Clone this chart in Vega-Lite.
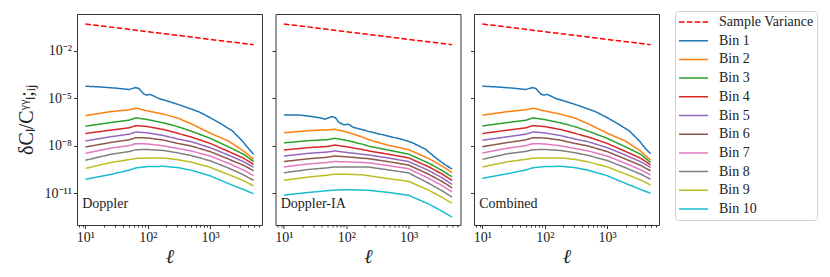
{
  "$schema": "https://vega.github.io/schema/vega-lite/v6.json",
  "padding": {"left": 15, "top": 10, "right": 5, "bottom": 5},
  "datasets": {
    "labels": [
      {"panel": "Doppler", "label": "Doppler", "ell": 8.9, "value": 2.2e-12},
      {"panel": "Doppler-IA", "label": "Doppler-IA", "ell": 8.9, "value": 2.2e-12},
      {"panel": "Combined", "label": "Combined", "ell": 8.9, "value": 2.2e-12}
    ],
    "curves": [
      {"panel":"Doppler","series":"Sample Variance","ell":10,"value":0.49},
      {"panel":"Doppler","series":"Sample Variance","ell":100,"value":0.16},
      {"panel":"Doppler","series":"Sample Variance","ell":1000,"value":0.052},
      {"panel":"Doppler","series":"Sample Variance","ell":5000,"value":0.024},
      {"panel":"Doppler","series":"Bin 1","ell":10,"value":5.75e-5},
      {"panel":"Doppler","series":"Bin 1","ell":16,"value":5.25e-5},
      {"panel":"Doppler","series":"Bin 1","ell":30,"value":4.37e-5},
      {"panel":"Doppler","series":"Bin 1","ell":50,"value":3.55e-5},
      {"panel":"Doppler","series":"Bin 1","ell":64,"value":4.68e-5},
      {"panel":"Doppler","series":"Bin 1","ell":72,"value":4.17e-5},
      {"panel":"Doppler","series":"Bin 1","ell":86,"value":1.91e-5},
      {"panel":"Doppler","series":"Bin 1","ell":95,"value":1.58e-5},
      {"panel":"Doppler","series":"Bin 1","ell":109,"value":1.74e-5},
      {"panel":"Doppler","series":"Bin 1","ell":125,"value":1.38e-5},
      {"panel":"Doppler","series":"Bin 1","ell":151,"value":9.55e-6},
      {"panel":"Doppler","series":"Bin 1","ell":193,"value":7.24e-6},
      {"panel":"Doppler","series":"Bin 1","ell":260,"value":5.01e-6},
      {"panel":"Doppler","series":"Bin 1","ell":358,"value":3.31e-6},
      {"panel":"Doppler","series":"Bin 1","ell":664,"value":1.38e-6},
      {"panel":"Doppler","series":"Bin 1","ell":995,"value":6.03e-7},
      {"panel":"Doppler","series":"Bin 1","ell":1390,"value":2.88e-7},
      {"panel":"Doppler","series":"Bin 1","ell":2275,"value":8.71e-8},
      {"panel":"Doppler","series":"Bin 1","ell":3300,"value":2.0e-8},
      {"panel":"Doppler","series":"Bin 1","ell":4220,"value":6.03e-9},
      {"panel":"Doppler","series":"Bin 1","ell":5000,"value":2.88e-9},
      {"panel":"Doppler","series":"Bin 2","ell":10,"value":7.94e-7},
      {"panel":"Doppler","series":"Bin 2","ell":25,"value":1.41e-6},
      {"panel":"Doppler","series":"Bin 2","ell":50,"value":1.86e-6},
      {"panel":"Doppler","series":"Bin 2","ell":65,"value":2.34e-6},
      {"panel":"Doppler","series":"Bin 2","ell":100,"value":1.58e-6},
      {"panel":"Doppler","series":"Bin 2","ell":180,"value":9.77e-7},
      {"panel":"Doppler","series":"Bin 2","ell":300,"value":5.75e-7},
      {"panel":"Doppler","series":"Bin 2","ell":500,"value":2.4e-7},
      {"panel":"Doppler","series":"Bin 2","ell":1000,"value":6.31e-8},
      {"panel":"Doppler","series":"Bin 2","ell":2000,"value":1.91e-8},
      {"panel":"Doppler","series":"Bin 2","ell":3500,"value":4.47e-9},
      {"panel":"Doppler","series":"Bin 2","ell":5000,"value":1.38e-9},
      {"panel":"Doppler","series":"Bin 3","ell":10,"value":1.7e-7},
      {"panel":"Doppler","series":"Bin 3","ell":25,"value":2.88e-7},
      {"panel":"Doppler","series":"Bin 3","ell":50,"value":4.07e-7},
      {"panel":"Doppler","series":"Bin 3","ell":65,"value":5.75e-7},
      {"panel":"Doppler","series":"Bin 3","ell":100,"value":4.47e-7},
      {"panel":"Doppler","series":"Bin 3","ell":180,"value":2.75e-7},
      {"panel":"Doppler","series":"Bin 3","ell":300,"value":1.62e-7},
      {"panel":"Doppler","series":"Bin 3","ell":500,"value":8.32e-8},
      {"panel":"Doppler","series":"Bin 3","ell":1000,"value":2.95e-8},
      {"panel":"Doppler","series":"Bin 3","ell":2000,"value":8.32e-9},
      {"panel":"Doppler","series":"Bin 3","ell":3500,"value":2.82e-9},
      {"panel":"Doppler","series":"Bin 3","ell":5000,"value":1.0e-9},
      {"panel":"Doppler","series":"Bin 4","ell":10,"value":5.89e-8},
      {"panel":"Doppler","series":"Bin 4","ell":25,"value":9.55e-8},
      {"panel":"Doppler","series":"Bin 4","ell":50,"value":1.35e-7},
      {"panel":"Doppler","series":"Bin 4","ell":65,"value":1.86e-7},
      {"panel":"Doppler","series":"Bin 4","ell":100,"value":1.62e-7},
      {"panel":"Doppler","series":"Bin 4","ell":180,"value":1.05e-7},
      {"panel":"Doppler","series":"Bin 4","ell":300,"value":6.17e-8},
      {"panel":"Doppler","series":"Bin 4","ell":500,"value":3.55e-8},
      {"panel":"Doppler","series":"Bin 4","ell":1000,"value":1.41e-8},
      {"panel":"Doppler","series":"Bin 4","ell":2000,"value":4.27e-9},
      {"panel":"Doppler","series":"Bin 4","ell":3500,"value":1.58e-9},
      {"panel":"Doppler","series":"Bin 4","ell":5000,"value":6.61e-10},
      {"panel":"Doppler","series":"Bin 5","ell":10,"value":2.0e-8},
      {"panel":"Doppler","series":"Bin 5","ell":25,"value":3.63e-8},
      {"panel":"Doppler","series":"Bin 5","ell":50,"value":5.37e-8},
      {"panel":"Doppler","series":"Bin 5","ell":65,"value":7.41e-8},
      {"panel":"Doppler","series":"Bin 5","ell":100,"value":6.46e-8},
      {"panel":"Doppler","series":"Bin 5","ell":180,"value":4.37e-8},
      {"panel":"Doppler","series":"Bin 5","ell":300,"value":2.69e-8},
      {"panel":"Doppler","series":"Bin 5","ell":500,"value":1.78e-8},
      {"panel":"Doppler","series":"Bin 5","ell":1000,"value":7.59e-9},
      {"panel":"Doppler","series":"Bin 5","ell":2000,"value":2.51e-9},
      {"panel":"Doppler","series":"Bin 5","ell":3500,"value":9.55e-10},
      {"panel":"Doppler","series":"Bin 5","ell":5000,"value":4.37e-10},
      {"panel":"Doppler","series":"Bin 6","ell":10,"value":8.32e-9},
      {"panel":"Doppler","series":"Bin 6","ell":25,"value":1.58e-8},
      {"panel":"Doppler","series":"Bin 6","ell":50,"value":2.34e-8},
      {"panel":"Doppler","series":"Bin 6","ell":65,"value":3.24e-8},
      {"panel":"Doppler","series":"Bin 6","ell":100,"value":3.09e-8},
      {"panel":"Doppler","series":"Bin 6","ell":180,"value":2.24e-8},
      {"panel":"Doppler","series":"Bin 6","ell":300,"value":1.41e-8},
      {"panel":"Doppler","series":"Bin 6","ell":500,"value":9.55e-9},
      {"panel":"Doppler","series":"Bin 6","ell":1000,"value":4.27e-9},
      {"panel":"Doppler","series":"Bin 6","ell":2000,"value":1.41e-9},
      {"panel":"Doppler","series":"Bin 6","ell":3500,"value":5.62e-10},
      {"panel":"Doppler","series":"Bin 6","ell":5000,"value":2.63e-10},
      {"panel":"Doppler","series":"Bin 7","ell":10,"value":3.31e-9},
      {"panel":"Doppler","series":"Bin 7","ell":25,"value":6.92e-9},
      {"panel":"Doppler","series":"Bin 7","ell":50,"value":1.02e-8},
      {"panel":"Doppler","series":"Bin 7","ell":65,"value":1.35e-8},
      {"panel":"Doppler","series":"Bin 7","ell":100,"value":1.29e-8},
      {"panel":"Doppler","series":"Bin 7","ell":180,"value":9.77e-9},
      {"panel":"Doppler","series":"Bin 7","ell":300,"value":6.76e-9},
      {"panel":"Doppler","series":"Bin 7","ell":500,"value":4.68e-9},
      {"panel":"Doppler","series":"Bin 7","ell":1000,"value":2.24e-9},
      {"panel":"Doppler","series":"Bin 7","ell":2000,"value":7.59e-10},
      {"panel":"Doppler","series":"Bin 7","ell":3500,"value":2.82e-10},
      {"panel":"Doppler","series":"Bin 7","ell":5000,"value":1.26e-10},
      {"panel":"Doppler","series":"Bin 8","ell":10,"value":1.2e-9},
      {"panel":"Doppler","series":"Bin 8","ell":25,"value":2.82e-9},
      {"panel":"Doppler","series":"Bin 8","ell":50,"value":4.27e-9},
      {"panel":"Doppler","series":"Bin 8","ell":65,"value":5.62e-9},
      {"panel":"Doppler","series":"Bin 8","ell":100,"value":5.75e-9},
      {"panel":"Doppler","series":"Bin 8","ell":180,"value":5.01e-9},
      {"panel":"Doppler","series":"Bin 8","ell":300,"value":3.55e-9},
      {"panel":"Doppler","series":"Bin 8","ell":500,"value":2.4e-9},
      {"panel":"Doppler","series":"Bin 8","ell":1000,"value":1.12e-9},
      {"panel":"Doppler","series":"Bin 8","ell":2000,"value":3.8e-10},
      {"panel":"Doppler","series":"Bin 8","ell":3500,"value":1.41e-10},
      {"panel":"Doppler","series":"Bin 8","ell":5000,"value":6.46e-11},
      {"panel":"Doppler","series":"Bin 9","ell":10,"value":3.72e-10},
      {"panel":"Doppler","series":"Bin 9","ell":25,"value":8.51e-10},
      {"panel":"Doppler","series":"Bin 9","ell":50,"value":1.32e-9},
      {"panel":"Doppler","series":"Bin 9","ell":65,"value":1.58e-9},
      {"panel":"Doppler","series":"Bin 9","ell":100,"value":1.66e-9},
      {"panel":"Doppler","series":"Bin 9","ell":180,"value":1.66e-9},
      {"panel":"Doppler","series":"Bin 9","ell":300,"value":1.32e-9},
      {"panel":"Doppler","series":"Bin 9","ell":500,"value":9.12e-10},
      {"panel":"Doppler","series":"Bin 9","ell":1000,"value":4.37e-10},
      {"panel":"Doppler","series":"Bin 9","ell":2000,"value":1.48e-10},
      {"panel":"Doppler","series":"Bin 9","ell":3500,"value":6.03e-11},
      {"panel":"Doppler","series":"Bin 9","ell":5000,"value":2.88e-11},
      {"panel":"Doppler","series":"Bin 10","ell":10,"value":7.59e-11},
      {"panel":"Doppler","series":"Bin 10","ell":25,"value":1.51e-10},
      {"panel":"Doppler","series":"Bin 10","ell":50,"value":2.82e-10},
      {"panel":"Doppler","series":"Bin 10","ell":65,"value":3.98e-10},
      {"panel":"Doppler","series":"Bin 10","ell":100,"value":4.79e-10},
      {"panel":"Doppler","series":"Bin 10","ell":180,"value":5.01e-10},
      {"panel":"Doppler","series":"Bin 10","ell":300,"value":4.17e-10},
      {"panel":"Doppler","series":"Bin 10","ell":500,"value":2.82e-10},
      {"panel":"Doppler","series":"Bin 10","ell":1000,"value":1.26e-10},
      {"panel":"Doppler","series":"Bin 10","ell":2000,"value":3.98e-11},
      {"panel":"Doppler","series":"Bin 10","ell":3500,"value":1.66e-11},
      {"panel":"Doppler","series":"Bin 10","ell":5000,"value":9.33e-12},

      {"panel":"Doppler-IA","series":"Sample Variance","ell":10,"value":0.49},
      {"panel":"Doppler-IA","series":"Sample Variance","ell":100,"value":0.16},
      {"panel":"Doppler-IA","series":"Sample Variance","ell":1000,"value":0.052},
      {"panel":"Doppler-IA","series":"Sample Variance","ell":5000,"value":0.024},
      {"panel":"Doppler-IA","series":"Bin 1","ell":10,"value":8.91e-7},
      {"panel":"Doppler-IA","series":"Bin 1","ell":19,"value":8.51e-7},
      {"panel":"Doppler-IA","series":"Bin 1","ell":36,"value":6.03e-7},
      {"panel":"Doppler-IA","series":"Bin 1","ell":46,"value":4.79e-7},
      {"panel":"Doppler-IA","series":"Bin 1","ell":59,"value":6.92e-7},
      {"panel":"Doppler-IA","series":"Bin 1","ell":67,"value":6.03e-7},
      {"panel":"Doppler-IA","series":"Bin 1","ell":75,"value":3.16e-7},
      {"panel":"Doppler-IA","series":"Bin 1","ell":91,"value":2.09e-7},
      {"panel":"Doppler-IA","series":"Bin 1","ell":109,"value":2.29e-7},
      {"panel":"Doppler-IA","series":"Bin 1","ell":131,"value":1.41e-7},
      {"panel":"Doppler-IA","series":"Bin 1","ell":158,"value":1.2e-7},
      {"panel":"Doppler-IA","series":"Bin 1","ell":229,"value":7.94e-8},
      {"panel":"Doppler-IA","series":"Bin 1","ell":425,"value":4.47e-8},
      {"panel":"Doppler-IA","series":"Bin 1","ell":787,"value":2.51e-8},
      {"panel":"Doppler-IA","series":"Bin 1","ell":1140,"value":1.58e-8},
      {"panel":"Doppler-IA","series":"Bin 1","ell":1870,"value":6.03e-9},
      {"panel":"Doppler-IA","series":"Bin 1","ell":2700,"value":1.78e-9},
      {"panel":"Doppler-IA","series":"Bin 1","ell":3920,"value":6.03e-10},
      {"panel":"Doppler-IA","series":"Bin 1","ell":5000,"value":3.39e-10},
      {"panel":"Doppler-IA","series":"Bin 2","ell":10,"value":6.61e-8},
      {"panel":"Doppler-IA","series":"Bin 2","ell":25,"value":8.91e-8},
      {"panel":"Doppler-IA","series":"Bin 2","ell":50,"value":1.0e-7},
      {"panel":"Doppler-IA","series":"Bin 2","ell":65,"value":1.1e-7},
      {"panel":"Doppler-IA","series":"Bin 2","ell":100,"value":7.59e-8},
      {"panel":"Doppler-IA","series":"Bin 2","ell":180,"value":3.55e-8},
      {"panel":"Doppler-IA","series":"Bin 2","ell":230,"value":2.4e-8},
      {"panel":"Doppler-IA","series":"Bin 2","ell":480,"value":1.05e-8},
      {"panel":"Doppler-IA","series":"Bin 2","ell":1000,"value":5.62e-9},
      {"panel":"Doppler-IA","series":"Bin 2","ell":2100,"value":1.58e-9},
      {"panel":"Doppler-IA","series":"Bin 2","ell":3500,"value":5.01e-10},
      {"panel":"Doppler-IA","series":"Bin 2","ell":5000,"value":2.0e-10},
      {"panel":"Doppler-IA","series":"Bin 3","ell":10,"value":1.51e-8},
      {"panel":"Doppler-IA","series":"Bin 3","ell":25,"value":2.09e-8},
      {"panel":"Doppler-IA","series":"Bin 3","ell":50,"value":2.4e-8},
      {"panel":"Doppler-IA","series":"Bin 3","ell":65,"value":2.95e-8},
      {"panel":"Doppler-IA","series":"Bin 3","ell":100,"value":2.19e-8},
      {"panel":"Doppler-IA","series":"Bin 3","ell":180,"value":1.26e-8},
      {"panel":"Doppler-IA","series":"Bin 3","ell":230,"value":9.33e-9},
      {"panel":"Doppler-IA","series":"Bin 3","ell":480,"value":5.25e-9},
      {"panel":"Doppler-IA","series":"Bin 3","ell":1000,"value":2.95e-9},
      {"panel":"Doppler-IA","series":"Bin 3","ell":2100,"value":7.94e-10},
      {"panel":"Doppler-IA","series":"Bin 3","ell":3500,"value":2.63e-10},
      {"panel":"Doppler-IA","series":"Bin 3","ell":5000,"value":1.07e-10},
      {"panel":"Doppler-IA","series":"Bin 4","ell":10,"value":5.37e-9},
      {"panel":"Doppler-IA","series":"Bin 4","ell":25,"value":7.59e-9},
      {"panel":"Doppler-IA","series":"Bin 4","ell":50,"value":8.91e-9},
      {"panel":"Doppler-IA","series":"Bin 4","ell":65,"value":1.1e-8},
      {"panel":"Doppler-IA","series":"Bin 4","ell":100,"value":8.71e-9},
      {"panel":"Doppler-IA","series":"Bin 4","ell":180,"value":5.75e-9},
      {"panel":"Doppler-IA","series":"Bin 4","ell":230,"value":4.68e-9},
      {"panel":"Doppler-IA","series":"Bin 4","ell":480,"value":2.88e-9},
      {"panel":"Doppler-IA","series":"Bin 4","ell":1000,"value":1.7e-9},
      {"panel":"Doppler-IA","series":"Bin 4","ell":2100,"value":4.68e-10},
      {"panel":"Doppler-IA","series":"Bin 4","ell":3500,"value":1.58e-10},
      {"panel":"Doppler-IA","series":"Bin 4","ell":5000,"value":6.31e-11},
      {"panel":"Doppler-IA","series":"Bin 5","ell":10,"value":2.24e-9},
      {"panel":"Doppler-IA","series":"Bin 5","ell":25,"value":3.31e-9},
      {"panel":"Doppler-IA","series":"Bin 5","ell":50,"value":3.98e-9},
      {"panel":"Doppler-IA","series":"Bin 5","ell":65,"value":4.68e-9},
      {"panel":"Doppler-IA","series":"Bin 5","ell":100,"value":3.8e-9},
      {"panel":"Doppler-IA","series":"Bin 5","ell":180,"value":2.88e-9},
      {"panel":"Doppler-IA","series":"Bin 5","ell":230,"value":2.63e-9},
      {"panel":"Doppler-IA","series":"Bin 5","ell":480,"value":1.66e-9},
      {"panel":"Doppler-IA","series":"Bin 5","ell":1000,"value":1.0e-9},
      {"panel":"Doppler-IA","series":"Bin 5","ell":2100,"value":2.75e-10},
      {"panel":"Doppler-IA","series":"Bin 5","ell":3500,"value":9.12e-11},
      {"panel":"Doppler-IA","series":"Bin 5","ell":5000,"value":3.55e-11},
      {"panel":"Doppler-IA","series":"Bin 6","ell":10,"value":1.0e-9},
      {"panel":"Doppler-IA","series":"Bin 6","ell":25,"value":1.51e-9},
      {"panel":"Doppler-IA","series":"Bin 6","ell":50,"value":1.86e-9},
      {"panel":"Doppler-IA","series":"Bin 6","ell":65,"value":2.24e-9},
      {"panel":"Doppler-IA","series":"Bin 6","ell":100,"value":2.0e-9},
      {"panel":"Doppler-IA","series":"Bin 6","ell":180,"value":1.62e-9},
      {"panel":"Doppler-IA","series":"Bin 6","ell":230,"value":1.51e-9},
      {"panel":"Doppler-IA","series":"Bin 6","ell":480,"value":9.77e-10},
      {"panel":"Doppler-IA","series":"Bin 6","ell":1000,"value":6.03e-10},
      {"panel":"Doppler-IA","series":"Bin 6","ell":2100,"value":1.58e-10},
      {"panel":"Doppler-IA","series":"Bin 6","ell":3500,"value":5.37e-11},
      {"panel":"Doppler-IA","series":"Bin 6","ell":5000,"value":2.19e-11},
      {"panel":"Doppler-IA","series":"Bin 7","ell":10,"value":4.57e-10},
      {"panel":"Doppler-IA","series":"Bin 7","ell":25,"value":7.08e-10},
      {"panel":"Doppler-IA","series":"Bin 7","ell":50,"value":8.71e-10},
      {"panel":"Doppler-IA","series":"Bin 7","ell":65,"value":1.0e-9},
      {"panel":"Doppler-IA","series":"Bin 7","ell":100,"value":9.55e-10},
      {"panel":"Doppler-IA","series":"Bin 7","ell":180,"value":8.71e-10},
      {"panel":"Doppler-IA","series":"Bin 7","ell":230,"value":8.32e-10},
      {"panel":"Doppler-IA","series":"Bin 7","ell":480,"value":5.5e-10},
      {"panel":"Doppler-IA","series":"Bin 7","ell":1000,"value":3.55e-10},
      {"panel":"Doppler-IA","series":"Bin 7","ell":2100,"value":8.71e-11},
      {"panel":"Doppler-IA","series":"Bin 7","ell":3500,"value":2.95e-11},
      {"panel":"Doppler-IA","series":"Bin 7","ell":5000,"value":1.2e-11},
      {"panel":"Doppler-IA","series":"Bin 8","ell":10,"value":1.95e-10},
      {"panel":"Doppler-IA","series":"Bin 8","ell":25,"value":3.16e-10},
      {"panel":"Doppler-IA","series":"Bin 8","ell":50,"value":3.98e-10},
      {"panel":"Doppler-IA","series":"Bin 8","ell":65,"value":4.57e-10},
      {"panel":"Doppler-IA","series":"Bin 8","ell":100,"value":4.57e-10},
      {"panel":"Doppler-IA","series":"Bin 8","ell":180,"value":4.57e-10},
      {"panel":"Doppler-IA","series":"Bin 8","ell":230,"value":4.47e-10},
      {"panel":"Doppler-IA","series":"Bin 8","ell":480,"value":2.95e-10},
      {"panel":"Doppler-IA","series":"Bin 8","ell":1000,"value":1.91e-10},
      {"panel":"Doppler-IA","series":"Bin 8","ell":2100,"value":4.27e-11},
      {"panel":"Doppler-IA","series":"Bin 8","ell":3500,"value":1.38e-11},
      {"panel":"Doppler-IA","series":"Bin 8","ell":5000,"value":5.62e-12},
      {"panel":"Doppler-IA","series":"Bin 9","ell":10,"value":6.61e-11},
      {"panel":"Doppler-IA","series":"Bin 9","ell":25,"value":1.05e-10},
      {"panel":"Doppler-IA","series":"Bin 9","ell":50,"value":1.38e-10},
      {"panel":"Doppler-IA","series":"Bin 9","ell":65,"value":1.58e-10},
      {"panel":"Doppler-IA","series":"Bin 9","ell":100,"value":1.58e-10},
      {"panel":"Doppler-IA","series":"Bin 9","ell":180,"value":1.45e-10},
      {"panel":"Doppler-IA","series":"Bin 9","ell":230,"value":1.26e-10},
      {"panel":"Doppler-IA","series":"Bin 9","ell":480,"value":8.32e-11},
      {"panel":"Doppler-IA","series":"Bin 9","ell":1000,"value":5.62e-11},
      {"panel":"Doppler-IA","series":"Bin 9","ell":2100,"value":1.58e-11},
      {"panel":"Doppler-IA","series":"Bin 9","ell":3500,"value":5.25e-12},
      {"panel":"Doppler-IA","series":"Bin 9","ell":5000,"value":2.29e-12},
      {"panel":"Doppler-IA","series":"Bin 10","ell":10,"value":7.59e-12},
      {"panel":"Doppler-IA","series":"Bin 10","ell":25,"value":1.12e-11},
      {"panel":"Doppler-IA","series":"Bin 10","ell":50,"value":1.45e-11},
      {"panel":"Doppler-IA","series":"Bin 10","ell":65,"value":1.58e-11},
      {"panel":"Doppler-IA","series":"Bin 10","ell":100,"value":1.66e-11},
      {"panel":"Doppler-IA","series":"Bin 10","ell":180,"value":1.58e-11},
      {"panel":"Doppler-IA","series":"Bin 10","ell":230,"value":1.51e-11},
      {"panel":"Doppler-IA","series":"Bin 10","ell":480,"value":1.12e-11},
      {"panel":"Doppler-IA","series":"Bin 10","ell":1000,"value":7.41e-12},
      {"panel":"Doppler-IA","series":"Bin 10","ell":2100,"value":2.09e-12},
      {"panel":"Doppler-IA","series":"Bin 10","ell":3500,"value":7.08e-13},
      {"panel":"Doppler-IA","series":"Bin 10","ell":5000,"value":3.09e-13},

      {"panel":"Combined","series":"Sample Variance","ell":10,"value":0.49},
      {"panel":"Combined","series":"Sample Variance","ell":100,"value":0.16},
      {"panel":"Combined","series":"Sample Variance","ell":1000,"value":0.052},
      {"panel":"Combined","series":"Sample Variance","ell":5000,"value":0.024},
      {"panel":"Combined","series":"Bin 1","ell":10,"value":5.75e-5},
      {"panel":"Combined","series":"Bin 1","ell":16,"value":5.25e-5},
      {"panel":"Combined","series":"Bin 1","ell":30,"value":4.37e-5},
      {"panel":"Combined","series":"Bin 1","ell":50,"value":3.55e-5},
      {"panel":"Combined","series":"Bin 1","ell":64,"value":4.68e-5},
      {"panel":"Combined","series":"Bin 1","ell":72,"value":4.17e-5},
      {"panel":"Combined","series":"Bin 1","ell":86,"value":1.91e-5},
      {"panel":"Combined","series":"Bin 1","ell":95,"value":1.58e-5},
      {"panel":"Combined","series":"Bin 1","ell":109,"value":1.74e-5},
      {"panel":"Combined","series":"Bin 1","ell":125,"value":1.38e-5},
      {"panel":"Combined","series":"Bin 1","ell":151,"value":9.55e-6},
      {"panel":"Combined","series":"Bin 1","ell":193,"value":7.24e-6},
      {"panel":"Combined","series":"Bin 1","ell":260,"value":5.01e-6},
      {"panel":"Combined","series":"Bin 1","ell":358,"value":3.31e-6},
      {"panel":"Combined","series":"Bin 1","ell":664,"value":1.38e-6},
      {"panel":"Combined","series":"Bin 1","ell":995,"value":6.03e-7},
      {"panel":"Combined","series":"Bin 1","ell":1390,"value":2.88e-7},
      {"panel":"Combined","series":"Bin 1","ell":2275,"value":8.71e-8},
      {"panel":"Combined","series":"Bin 1","ell":3300,"value":2.0e-8},
      {"panel":"Combined","series":"Bin 1","ell":4220,"value":6.03e-9},
      {"panel":"Combined","series":"Bin 1","ell":5000,"value":3.16e-9},
      {"panel":"Combined","series":"Bin 2","ell":10,"value":8.51e-7},
      {"panel":"Combined","series":"Bin 2","ell":25,"value":1.41e-6},
      {"panel":"Combined","series":"Bin 2","ell":50,"value":1.86e-6},
      {"panel":"Combined","series":"Bin 2","ell":65,"value":2.34e-6},
      {"panel":"Combined","series":"Bin 2","ell":100,"value":1.58e-6},
      {"panel":"Combined","series":"Bin 2","ell":180,"value":9.77e-7},
      {"panel":"Combined","series":"Bin 2","ell":300,"value":5.75e-7},
      {"panel":"Combined","series":"Bin 2","ell":500,"value":2.4e-7},
      {"panel":"Combined","series":"Bin 2","ell":1000,"value":6.31e-8},
      {"panel":"Combined","series":"Bin 2","ell":2000,"value":1.91e-8},
      {"panel":"Combined","series":"Bin 2","ell":3500,"value":4.47e-9},
      {"panel":"Combined","series":"Bin 2","ell":5000,"value":1.2e-9},
      {"panel":"Combined","series":"Bin 3","ell":10,"value":1.78e-7},
      {"panel":"Combined","series":"Bin 3","ell":25,"value":2.88e-7},
      {"panel":"Combined","series":"Bin 3","ell":50,"value":4.07e-7},
      {"panel":"Combined","series":"Bin 3","ell":65,"value":5.75e-7},
      {"panel":"Combined","series":"Bin 3","ell":100,"value":4.47e-7},
      {"panel":"Combined","series":"Bin 3","ell":180,"value":2.75e-7},
      {"panel":"Combined","series":"Bin 3","ell":300,"value":1.62e-7},
      {"panel":"Combined","series":"Bin 3","ell":500,"value":8.32e-8},
      {"panel":"Combined","series":"Bin 3","ell":1000,"value":2.95e-8},
      {"panel":"Combined","series":"Bin 3","ell":2000,"value":8.32e-9},
      {"panel":"Combined","series":"Bin 3","ell":3500,"value":2.82e-9},
      {"panel":"Combined","series":"Bin 3","ell":5000,"value":8.51e-10},
      {"panel":"Combined","series":"Bin 4","ell":10,"value":5.89e-8},
      {"panel":"Combined","series":"Bin 4","ell":25,"value":9.55e-8},
      {"panel":"Combined","series":"Bin 4","ell":50,"value":1.35e-7},
      {"panel":"Combined","series":"Bin 4","ell":65,"value":1.86e-7},
      {"panel":"Combined","series":"Bin 4","ell":100,"value":1.62e-7},
      {"panel":"Combined","series":"Bin 4","ell":180,"value":1.05e-7},
      {"panel":"Combined","series":"Bin 4","ell":300,"value":6.17e-8},
      {"panel":"Combined","series":"Bin 4","ell":500,"value":3.55e-8},
      {"panel":"Combined","series":"Bin 4","ell":1000,"value":1.41e-8},
      {"panel":"Combined","series":"Bin 4","ell":2000,"value":4.27e-9},
      {"panel":"Combined","series":"Bin 4","ell":3500,"value":1.58e-9},
      {"panel":"Combined","series":"Bin 4","ell":5000,"value":6.03e-10},
      {"panel":"Combined","series":"Bin 5","ell":10,"value":2.24e-8},
      {"panel":"Combined","series":"Bin 5","ell":25,"value":3.63e-8},
      {"panel":"Combined","series":"Bin 5","ell":50,"value":5.37e-8},
      {"panel":"Combined","series":"Bin 5","ell":65,"value":7.41e-8},
      {"panel":"Combined","series":"Bin 5","ell":100,"value":6.46e-8},
      {"panel":"Combined","series":"Bin 5","ell":180,"value":4.37e-8},
      {"panel":"Combined","series":"Bin 5","ell":300,"value":2.69e-8},
      {"panel":"Combined","series":"Bin 5","ell":500,"value":1.78e-8},
      {"panel":"Combined","series":"Bin 5","ell":1000,"value":7.59e-9},
      {"panel":"Combined","series":"Bin 5","ell":2000,"value":2.51e-9},
      {"panel":"Combined","series":"Bin 5","ell":3500,"value":9.55e-10},
      {"panel":"Combined","series":"Bin 5","ell":5000,"value":4.17e-10},
      {"panel":"Combined","series":"Bin 6","ell":10,"value":8.71e-9},
      {"panel":"Combined","series":"Bin 6","ell":25,"value":1.58e-8},
      {"panel":"Combined","series":"Bin 6","ell":50,"value":2.34e-8},
      {"panel":"Combined","series":"Bin 6","ell":65,"value":3.24e-8},
      {"panel":"Combined","series":"Bin 6","ell":100,"value":3.09e-8},
      {"panel":"Combined","series":"Bin 6","ell":180,"value":2.24e-8},
      {"panel":"Combined","series":"Bin 6","ell":300,"value":1.41e-8},
      {"panel":"Combined","series":"Bin 6","ell":500,"value":9.55e-9},
      {"panel":"Combined","series":"Bin 6","ell":1000,"value":4.27e-9},
      {"panel":"Combined","series":"Bin 6","ell":2000,"value":1.41e-9},
      {"panel":"Combined","series":"Bin 6","ell":3500,"value":5.62e-10},
      {"panel":"Combined","series":"Bin 6","ell":5000,"value":2.57e-10},
      {"panel":"Combined","series":"Bin 7","ell":10,"value":3.47e-9},
      {"panel":"Combined","series":"Bin 7","ell":25,"value":6.92e-9},
      {"panel":"Combined","series":"Bin 7","ell":50,"value":1.02e-8},
      {"panel":"Combined","series":"Bin 7","ell":65,"value":1.35e-8},
      {"panel":"Combined","series":"Bin 7","ell":100,"value":1.29e-8},
      {"panel":"Combined","series":"Bin 7","ell":180,"value":9.77e-9},
      {"panel":"Combined","series":"Bin 7","ell":300,"value":6.76e-9},
      {"panel":"Combined","series":"Bin 7","ell":500,"value":4.68e-9},
      {"panel":"Combined","series":"Bin 7","ell":1000,"value":2.24e-9},
      {"panel":"Combined","series":"Bin 7","ell":2000,"value":7.59e-10},
      {"panel":"Combined","series":"Bin 7","ell":3500,"value":2.95e-10},
      {"panel":"Combined","series":"Bin 7","ell":5000,"value":1.41e-10},
      {"panel":"Combined","series":"Bin 8","ell":10,"value":1.38e-9},
      {"panel":"Combined","series":"Bin 8","ell":25,"value":3.09e-9},
      {"panel":"Combined","series":"Bin 8","ell":50,"value":4.37e-9},
      {"panel":"Combined","series":"Bin 8","ell":65,"value":5.62e-9},
      {"panel":"Combined","series":"Bin 8","ell":100,"value":5.75e-9},
      {"panel":"Combined","series":"Bin 8","ell":180,"value":5.01e-9},
      {"panel":"Combined","series":"Bin 8","ell":300,"value":3.63e-9},
      {"panel":"Combined","series":"Bin 8","ell":500,"value":2.45e-9},
      {"panel":"Combined","series":"Bin 8","ell":1000,"value":1.17e-9},
      {"panel":"Combined","series":"Bin 8","ell":2000,"value":3.98e-10},
      {"panel":"Combined","series":"Bin 8","ell":3500,"value":1.58e-10},
      {"panel":"Combined","series":"Bin 8","ell":5000,"value":7.59e-11},
      {"panel":"Combined","series":"Bin 9","ell":10,"value":4.57e-10},
      {"panel":"Combined","series":"Bin 9","ell":25,"value":9.55e-10},
      {"panel":"Combined","series":"Bin 9","ell":50,"value":1.38e-9},
      {"panel":"Combined","series":"Bin 9","ell":65,"value":1.62e-9},
      {"panel":"Combined","series":"Bin 9","ell":100,"value":1.7e-9},
      {"panel":"Combined","series":"Bin 9","ell":180,"value":1.7e-9},
      {"panel":"Combined","series":"Bin 9","ell":300,"value":1.38e-9},
      {"panel":"Combined","series":"Bin 9","ell":500,"value":9.55e-10},
      {"panel":"Combined","series":"Bin 9","ell":1000,"value":4.68e-10},
      {"panel":"Combined","series":"Bin 9","ell":2000,"value":1.62e-10},
      {"panel":"Combined","series":"Bin 9","ell":3500,"value":6.61e-11},
      {"panel":"Combined","series":"Bin 9","ell":5000,"value":3.31e-11},
      {"panel":"Combined","series":"Bin 10","ell":10,"value":8.71e-11},
      {"panel":"Combined","series":"Bin 10","ell":25,"value":1.7e-10},
      {"panel":"Combined","series":"Bin 10","ell":50,"value":2.95e-10},
      {"panel":"Combined","series":"Bin 10","ell":65,"value":4.07e-10},
      {"panel":"Combined","series":"Bin 10","ell":100,"value":4.79e-10},
      {"panel":"Combined","series":"Bin 10","ell":180,"value":5.01e-10},
      {"panel":"Combined","series":"Bin 10","ell":300,"value":4.17e-10},
      {"panel":"Combined","series":"Bin 10","ell":500,"value":2.82e-10},
      {"panel":"Combined","series":"Bin 10","ell":1000,"value":1.29e-10},
      {"panel":"Combined","series":"Bin 10","ell":2000,"value":4.07e-11},
      {"panel":"Combined","series":"Bin 10","ell":3500,"value":1.7e-11},
      {"panel":"Combined","series":"Bin 10","ell":5000,"value":9.77e-12}
    ]
  },
  "spacing": 13.5,
  "bounds": "flush",
  "resolve": {"scale": {"color": "shared", "strokeDash": "shared"}},
  "hconcat": [
    {
      "width": 185, "height": 211,
      "layer": [
        {
          "data": {"name": "curves"},
          "transform": [{"filter": "datum.panel == 'Doppler'"}],
          "mark": {"type": "line", "strokeWidth": 1.5, "clip": true},
          "encoding": {
            "x": {"field": "ell", "type": "quantitative", "scale": {"type": "log", "domain": [7.33, 6823], "nice": false},
                  "axis": {"title": "ℓ", "values": [8,9,10,20,30,40,50,60,70,80,90,100,200,300,400,500,600,700,800,900,1000,2000,3000,4000,5000,6000],
                           "labelExpr": "datum.value == 10 ? '10¹' : datum.value == 100 ? '10²' : datum.value == 1000 ? '10³' : ''",
                           "tickSize": {"condition": {"test": "datum.value == 10 || datum.value == 100 || datum.value == 1000", "value": 3.5}, "value": 2}}},
            "y": {"field": "value", "type": "quantitative", "scale": {"type": "log", "domain": [9.8e-14, 2.09], "nice": false},
                  "axis": {"title": "δCₗ/Cᵞᵞₗ;ᵢⱼ", "values": [1e-11, 1e-8, 1e-5, 1e-2],
                           "labelExpr": "datum.value < 1e-10 ? '10⁻¹¹' : datum.value < 1e-7 ? '10⁻⁸' : datum.value < 1e-4 ? '10⁻⁵' : '10⁻²'"}},
            "color": {"field": "series", "type": "nominal",
                      "scale": {"domain": ["Sample Variance","Bin 1","Bin 2","Bin 3","Bin 4","Bin 5","Bin 6","Bin 7","Bin 8","Bin 9","Bin 10"],
                                "range": ["#ff0000","#1f77b4","#ff7f0e","#2ca02c","#d62728","#9467bd","#8c564b","#e377c2","#7f7f7f","#bcbd22","#17becf"]}},
            "strokeDash": {"field": "series", "type": "nominal",
                      "scale": {"domain": ["Sample Variance","Bin 1","Bin 2","Bin 3","Bin 4","Bin 5","Bin 6","Bin 7","Bin 8","Bin 9","Bin 10"],
                                "range": [[5.5,2.4],[1,0],[1,0],[1,0],[1,0],[1,0],[1,0],[1,0],[1,0],[1,0],[1,0]]}}
          }
        },
        {
          "data": {"name": "labels"},
          "transform": [{"filter": "datum.panel == 'Doppler'"}],
          "mark": {"type": "text", "align": "left", "baseline": "middle", "fontSize": 14, "color": "#222"},
          "encoding": {
            "x": {"field": "ell", "type": "quantitative"},
            "y": {"field": "value", "type": "quantitative"},
            "text": {"field": "label"}
          }
        }
      ]
    },
    {
      "width": 185, "height": 211,
      "layer": [
        {
          "data": {"name": "curves"},
          "transform": [{"filter": "datum.panel == 'Doppler-IA'"}],
          "mark": {"type": "line", "strokeWidth": 1.5, "clip": true},
          "encoding": {
            "x": {"field": "ell", "type": "quantitative", "scale": {"type": "log", "domain": [7.33, 6823], "nice": false},
                  "axis": {"title": "ℓ", "values": [8,9,10,20,30,40,50,60,70,80,90,100,200,300,400,500,600,700,800,900,1000,2000,3000,4000,5000,6000],
                           "labelExpr": "datum.value == 10 ? '10¹' : datum.value == 100 ? '10²' : datum.value == 1000 ? '10³' : ''",
                           "tickSize": {"condition": {"test": "datum.value == 10 || datum.value == 100 || datum.value == 1000", "value": 3.5}, "value": 2}}},
            "y": {"field": "value", "type": "quantitative", "scale": {"type": "log", "domain": [9.8e-14, 2.09], "nice": false},
                  "axis": {"title": null, "labels": false, "values": [1e-11, 1e-8, 1e-5, 1e-2]}},
            "color": {"field": "series", "type": "nominal",
                      "scale": {"domain": ["Sample Variance","Bin 1","Bin 2","Bin 3","Bin 4","Bin 5","Bin 6","Bin 7","Bin 8","Bin 9","Bin 10"],
                                "range": ["#ff0000","#1f77b4","#ff7f0e","#2ca02c","#d62728","#9467bd","#8c564b","#e377c2","#7f7f7f","#bcbd22","#17becf"]}},
            "strokeDash": {"field": "series", "type": "nominal",
                      "scale": {"domain": ["Sample Variance","Bin 1","Bin 2","Bin 3","Bin 4","Bin 5","Bin 6","Bin 7","Bin 8","Bin 9","Bin 10"],
                                "range": [[5.5,2.4],[1,0],[1,0],[1,0],[1,0],[1,0],[1,0],[1,0],[1,0],[1,0],[1,0]]}}
          }
        },
        {
          "data": {"name": "labels"},
          "transform": [{"filter": "datum.panel == 'Doppler-IA'"}],
          "mark": {"type": "text", "align": "left", "baseline": "middle", "fontSize": 14, "color": "#222"},
          "encoding": {
            "x": {"field": "ell", "type": "quantitative"},
            "y": {"field": "value", "type": "quantitative"},
            "text": {"field": "label"}
          }
        }
      ]
    },
    {
      "width": 185, "height": 211,
      "layer": [
        {
          "data": {"name": "curves"},
          "transform": [{"filter": "datum.panel == 'Combined'"}],
          "mark": {"type": "line", "strokeWidth": 1.5, "clip": true},
          "encoding": {
            "x": {"field": "ell", "type": "quantitative", "scale": {"type": "log", "domain": [7.33, 6823], "nice": false},
                  "axis": {"title": "ℓ", "values": [8,9,10,20,30,40,50,60,70,80,90,100,200,300,400,500,600,700,800,900,1000,2000,3000,4000,5000,6000],
                           "labelExpr": "datum.value == 10 ? '10¹' : datum.value == 100 ? '10²' : datum.value == 1000 ? '10³' : ''",
                           "tickSize": {"condition": {"test": "datum.value == 10 || datum.value == 100 || datum.value == 1000", "value": 3.5}, "value": 2}}},
            "y": {"field": "value", "type": "quantitative", "scale": {"type": "log", "domain": [9.8e-14, 2.09], "nice": false},
                  "axis": {"title": null, "labels": false, "values": [1e-11, 1e-8, 1e-5, 1e-2]}},
            "color": {"field": "series", "type": "nominal",
                      "scale": {"domain": ["Sample Variance","Bin 1","Bin 2","Bin 3","Bin 4","Bin 5","Bin 6","Bin 7","Bin 8","Bin 9","Bin 10"],
                                "range": ["#ff0000","#1f77b4","#ff7f0e","#2ca02c","#d62728","#9467bd","#8c564b","#e377c2","#7f7f7f","#bcbd22","#17becf"]}},
            "strokeDash": {"field": "series", "type": "nominal",
                      "scale": {"domain": ["Sample Variance","Bin 1","Bin 2","Bin 3","Bin 4","Bin 5","Bin 6","Bin 7","Bin 8","Bin 9","Bin 10"],
                                "range": [[5.5,2.4],[1,0],[1,0],[1,0],[1,0],[1,0],[1,0],[1,0],[1,0],[1,0],[1,0]]}}
          }
        },
        {
          "data": {"name": "labels"},
          "transform": [{"filter": "datum.panel == 'Combined'"}],
          "mark": {"type": "text", "align": "left", "baseline": "middle", "fontSize": 14, "color": "#222"},
          "encoding": {
            "x": {"field": "ell", "type": "quantitative"},
            "y": {"field": "value", "type": "quantitative"},
            "text": {"field": "label"}
          }
        }
      ]
    }
  ],
  "config": {
    "font": "Liberation Serif",
    "view": {"stroke": "#333", "strokeWidth": 1},
    "axis": {
      "grid": false, "domain": false, "tickColor": "#333", "tickWidth": 1, "tickSize": 3.5,
      "labelFont": "Liberation Serif", "labelFontSize": 14, "labelColor": "#222", "labelPadding": 2,
      "labelOverlap": false, "labelFlush": false,
      "titleFont": "Liberation Serif", "titleFontSize": 20, "titleFontWeight": "normal", "titleColor": "#222"
    },
    "axisY": {"titlePadding": 8},
    "axisX": {"titlePadding": 2, "titleFontStyle": "italic"},
    "text": {"font": "Liberation Serif"},
    "legend": {
      "title": null, "orient": "none", "legendX": 598, "legendY": -3,
      "symbolType": "M-1,0H1", "symbolSize": 841, "symbolStrokeWidth": 1.5,
      "labelFont": "Liberation Serif", "labelFontSize": 14, "labelColor": "#222", "labelOffset": 10,
      "strokeColor": "#d0d0d0", "fillColor": "white", "cornerRadius": 3, "padding": 3,
      "clipHeight": 16, "rowPadding": 2.7
    }
  }
}
